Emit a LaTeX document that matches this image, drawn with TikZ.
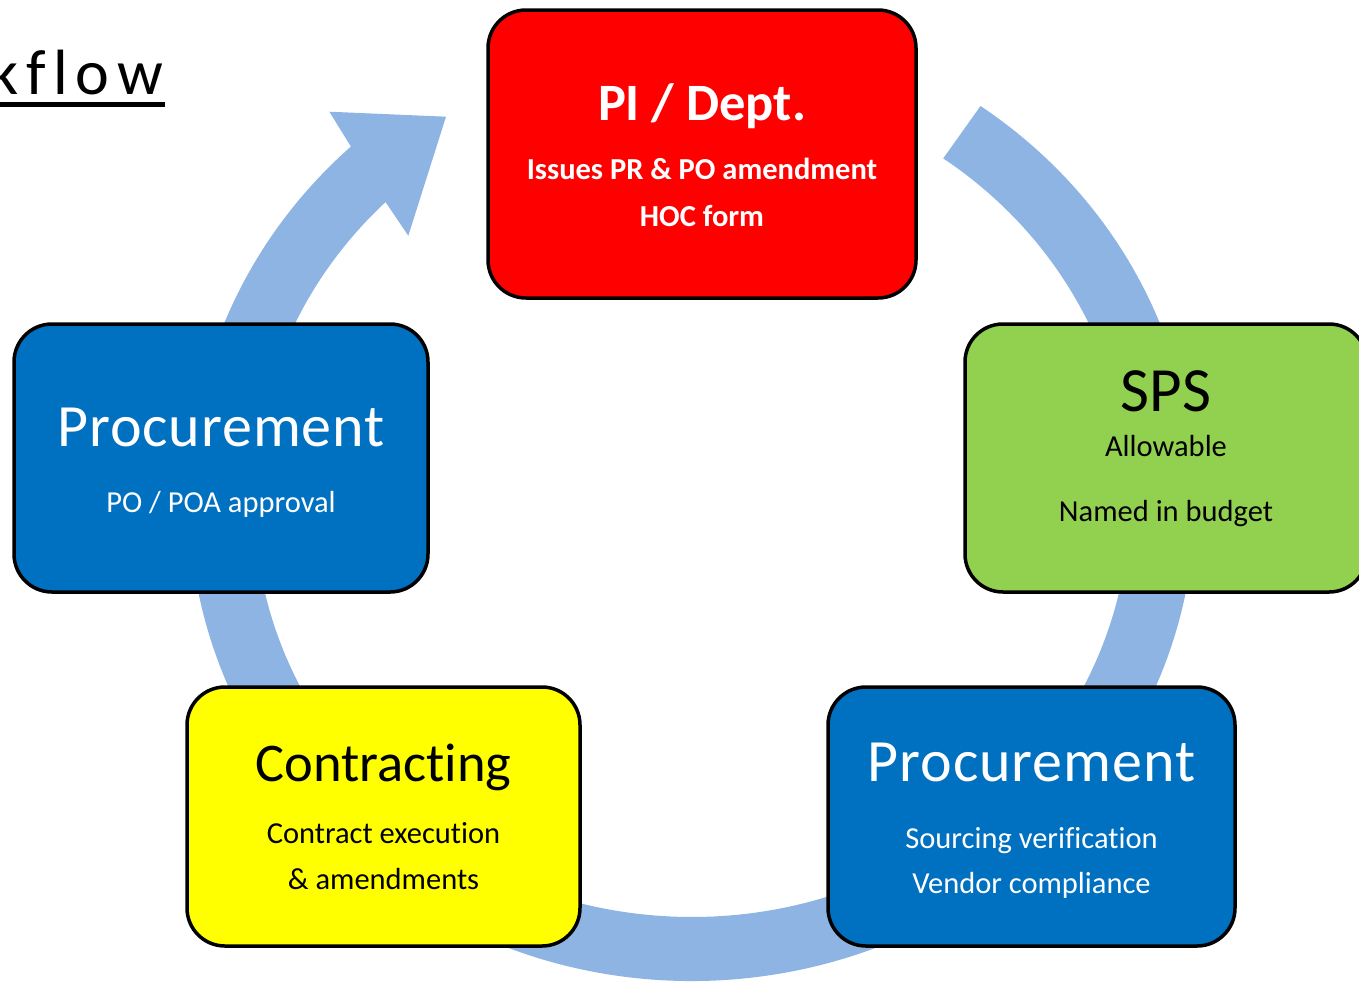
\documentclass[tikz,border=0pt]{standalone}
\usepackage{fontspec}
\setmainfont{Carlito}[Ligatures = NoCommon]
\usetikzlibrary{calc}

\definecolor{loopblue}{HTML}{8EB4E3}
\definecolor{deptred}{HTML}{FF0000}
\definecolor{spsgreen}{HTML}{92D050}
\definecolor{procblue}{HTML}{0070C0}
\definecolor{contractyellow}{HTML}{FFFF00}

\newcommand{\fsize}[1]{\fontsize{#1}{#1}\selectfont}

\begin{document}
\begin{tikzpicture}[x = 1pt, y = -1pt,
	stage/.style = {draw = black, line width = 3.5pt, rounded corners = 38pt, inner sep = 0pt},
	boxtext/.style = {anchor = base, inner sep = 0pt}]

	\useasboundingbox (0, 0) rectangle (1359, 983);
	\clip (0, 0) rectangle (1359, 983);

	% Title, running off the left edge
	
	\node [anchor = base east, inner sep = 0pt, font = \fsize{64}\addfontfeature{LetterSpace = 12}] (title) at (163, 94) {kflow};
	\draw [line width = 4.5pt] (0, 104.5) -- (165, 104.5);

	% Cycle band with arrow head
	
	\coordinate (hub) at (692, 500);
	\coordinate (head-out) at (329.3, 111.7);
	\coordinate (head-tip) at (446, 116.7);
	\coordinate (head-in) at (408.3, 235.7);
	\fill [loopblue] ($(hub) + (-55 : 503 and 481)$)
		arc [start angle = -55, end angle = 227.3, x radius = 503, y radius = 481]
		-- (head-out) -- (head-tip) -- (head-in)
		-- ($(hub) + (225.6 : 438 and 417)$)
		arc [start angle = 225.6, end angle = -55, x radius = 438, y radius = 417]
		-- cycle;

	% Stages
	
	\node [stage, fill = deptred, minimum width = 428pt, minimum height = 288pt] (dept) at (702, 154) {};
	\node [stage, fill = spsgreen, minimum width = 402pt, minimum height = 268pt] (sps) at (1166, 458) {};
	\node [stage, fill = procblue, minimum width = 407pt, minimum height = 259pt] (sourcing) at (1031.5, 816.5) {};
	\node [stage, fill = contractyellow, minimum width = 393pt, minimum height = 259pt] (contracting) at (383.5, 816.5) {};
	\node [stage, fill = procblue, minimum width = 414pt, minimum height = 268pt] (approval) at (221, 458) {};

	% Stage texts
	
	\begin{scope}[white]
		\node [boxtext, font = \bfseries\fsize{52.5}] (dept-head) at (702, 120) {PI / Dept.};
		\node [boxtext, font = \bfseries\fsize{30.5}] (dept-pr) at (702, 179) {Issues PR \& PO amendment};
		\node [boxtext, font = \bfseries\fsize{30.5}] (dept-hoc) at (702, 226) {HOC form};
	\end{scope}

	\node [boxtext, font = \fsize{63}] (sps-head) at (1166, 411) {SPS};
	\node [boxtext, font = \fsize{30.5}] (sps-allow) at (1166, 456) {Allowable};
	\node [boxtext, font = \fsize{30.5}] (sps-named) at (1166, 521) {Named in budget};

	\begin{scope}[white]
		\node [boxtext, font = \fsize{60}\addfontfeature{LetterSpace = 1.5}] (sourcing-head) at (1031.5, 781) {Procurement};
		\node [boxtext, font = \fsize{30.5}] (sourcing-verify) at (1031.5, 848) {Sourcing verification};
		\node [boxtext, font = \fsize{30.5}] (sourcing-vendor) at (1031.5, 893) {Vendor compliance};
	\end{scope}

	\node [boxtext, font = \fsize{54.5}] (contracting-head) at (383.5, 781) {Contracting};
	\node [boxtext, font = \fsize{30.5}] (contracting-exec) at (383.5, 843) {Contract execution};
	\node [boxtext, font = \fsize{30.5}] (contracting-amend) at (383.5, 889) {\& amendments};

	\begin{scope}[white]
		\node [boxtext, font = \fsize{60}\addfontfeature{LetterSpace = 1.5}] (approval-head) at (221, 446) {Procurement};
		\node [boxtext, font = \fsize{30.5}] (approval-po) at (221, 512) {PO / POA approval};
	\end{scope}

\end{tikzpicture}
\end{document}
